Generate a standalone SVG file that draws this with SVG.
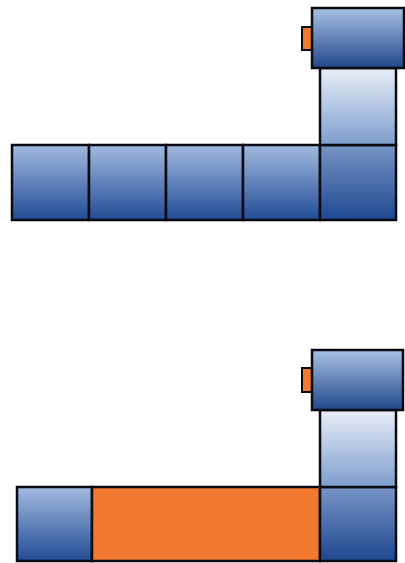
<svg xmlns="http://www.w3.org/2000/svg" width="405" height="563" viewBox="0 0 405 563">
<defs>
<linearGradient id="gCell" x1="0" y1="0" x2="0" y2="1">
<stop offset="0" stop-color="#a3badf"/>
<stop offset="1" stop-color="#214c95"/>
</linearGradient>
<linearGradient id="gCorner" x1="0" y1="0" x2="0" y2="1">
<stop offset="0" stop-color="#7894c6"/>
<stop offset="1" stop-color="#1f4890"/>
</linearGradient>
<linearGradient id="gCol" x1="0" y1="0" x2="0" y2="1">
<stop offset="0" stop-color="#e9eff8"/>
<stop offset="1" stop-color="#7d9dcd"/>
</linearGradient>
<linearGradient id="gHead" x1="0" y1="0" x2="0" y2="1">
<stop offset="0" stop-color="#a9c0e3"/>
<stop offset="1" stop-color="#20488c"/>
</linearGradient>
</defs>
<style>
rect{stroke:#0a0a12;stroke-width:2.5}
.cell{fill:url(#gCell)}
.corner{fill:url(#gCorner)}
.col{fill:url(#gCol)}
.head{fill:url(#gHead)}
.tab{fill:#f07a30;stroke-width:2}
.orange{fill:#f27a30}
</style>
<g id="top-row">
<rect class="cell" x="12" y="145" width="77" height="75"/>
<rect class="cell" x="89" y="145" width="77" height="75"/>
<rect class="cell" x="166" y="145" width="77" height="75"/>
<rect class="cell" x="243" y="145" width="77" height="75"/>
<rect class="corner" x="320" y="145" width="76" height="75"/>
</g>
<g id="top-column">
<rect class="col" x="320" y="68" width="76" height="77"/>
</g>
<g id="top-head">
<rect class="tab" x="302" y="27" width="10" height="23"/>
<rect class="head" x="312" y="8" width="92" height="60"/>
</g>
<g id="bottom-row">
<rect class="cell" x="17" y="487" width="75" height="74"/>
<rect class="orange" x="92" y="487" width="228" height="74"/>
<rect class="corner" x="320" y="487" width="76" height="74"/>
</g>
<g id="bottom-column">
<rect class="col" x="320" y="410" width="76" height="77"/>
</g>
<g id="bottom-head">
<rect class="tab" x="302" y="368" width="10" height="24"/>
<rect class="head" x="312" y="350" width="91" height="60"/>
</g>
</svg>
